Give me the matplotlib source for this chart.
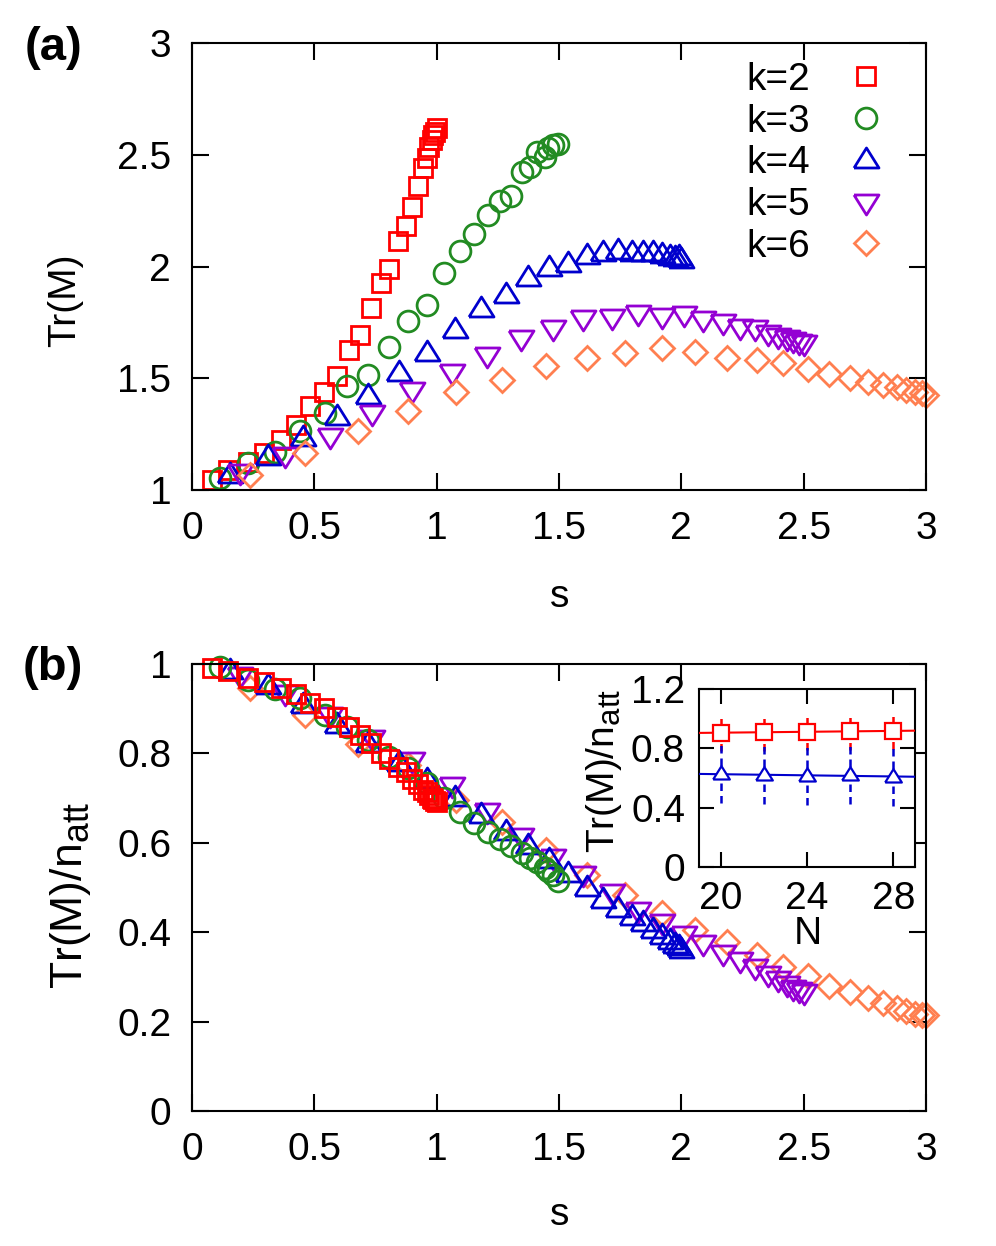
import matplotlib
matplotlib.use("Agg")
import matplotlib.pyplot as plt
import matplotlib._mathtext as mtext
import numpy as np

plt.rcParams['font.family'] = ['Liberation Sans', 'DejaVu Sans']
plt.rcParams['mathtext.default'] = 'regular'
# gnuplot enhanced text shrinks subscripts less than mathtext does
mtext.SHRINK_FACTOR = 0.8

# ---- data ----
s2 = [0.080, 0.148, 0.230, 0.294, 0.362, 0.425, 0.482, 0.539, 0.591, 0.643, 0.687, 0.731, 0.771,
      0.806, 0.842, 0.875, 0.899, 0.925, 0.945, 0.962, 0.970, 0.979, 0.986, 0.993, 1.000]
tr2 = [1.045, 1.089, 1.127, 1.164, 1.224, 1.291, 1.376, 1.440, 1.512, 1.626, 1.694, 1.813, 1.928,
       1.989, 2.114, 2.181, 2.268, 2.360, 2.439, 2.484, 2.536, 2.566, 2.588, 2.603, 2.618]
v2 = [0.992, 0.984, 0.969, 0.960, 0.946, 0.932, 0.912, 0.901, 0.882, 0.860, 0.841, 0.823, 0.802,
      0.787, 0.770, 0.758, 0.743, 0.731, 0.718, 0.713, 0.707, 0.701, 0.698, 0.694, 0.692]

s3 = [0.114, 0.230, 0.339, 0.441, 0.544, 0.632, 0.721, 0.806, 0.884, 0.959, 1.030, 1.095, 1.154,
      1.211, 1.259, 1.304, 1.347, 1.381, 1.411, 1.443, 1.456, 1.477, 1.497]
tr3 = [1.052, 1.122, 1.172, 1.265, 1.343, 1.465, 1.515, 1.638, 1.758, 1.828, 1.969, 2.071, 2.145,
       2.230, 2.293, 2.315, 2.424, 2.447, 2.514, 2.492, 2.529, 2.543, 2.550]
v3 = [0.993, 0.964, 0.944, 0.923, 0.886, 0.860, 0.830, 0.793, 0.767, 0.733, 0.700, 0.668, 0.645,
      0.625, 0.608, 0.592, 0.578, 0.566, 0.556, 0.544, 0.538, 0.528, 0.515]

s4 = [0.155, 0.312, 0.455, 0.591, 0.721, 0.847, 0.962, 1.075, 1.180, 1.282, 1.374, 1.460, 1.538,
      1.613, 1.681, 1.742, 1.797, 1.842, 1.885, 1.919, 1.954, 1.974, 1.992, 2.000]
tr4 = [1.067, 1.149, 1.231, 1.328, 1.421, 1.522, 1.611, 1.716, 1.808, 1.872, 1.947, 1.992, 2.011,
       2.047, 2.062, 2.071, 2.059, 2.062, 2.062, 2.052, 2.044, 2.037, 2.041, 2.029]
v4 = [0.985, 0.950, 0.908, 0.864, 0.820, 0.778, 0.740, 0.700, 0.662, 0.625, 0.592, 0.562, 0.530,
      0.498, 0.472, 0.452, 0.435, 0.420, 0.405, 0.392, 0.380, 0.372, 0.366, 0.360]

s5 = [0.196, 0.380, 0.564, 0.734, 0.898, 1.061, 1.204, 1.343, 1.477, 1.600, 1.715, 1.824, 1.919,
      2.010, 2.090, 2.171, 2.240, 2.301, 2.355, 2.396, 2.430, 2.457, 2.482, 2.500]
tr5 = [1.082, 1.157, 1.242, 1.343, 1.447, 1.529, 1.604, 1.679, 1.723, 1.768, 1.772, 1.793, 1.778,
       1.787, 1.764, 1.753, 1.731, 1.724, 1.701, 1.689, 1.679, 1.672, 1.664, 1.660]
v5 = [0.975, 0.935, 0.885, 0.835, 0.785, 0.730, 0.672, 0.615, 0.568, 0.530, 0.490, 0.450, 0.424,
      0.395, 0.376, 0.354, 0.338, 0.323, 0.307, 0.296, 0.285, 0.276, 0.270, 0.266]

s6 = [0.237, 0.462, 0.680, 0.884, 1.079, 1.268, 1.447, 1.613, 1.769, 1.919, 2.055, 2.185, 2.308,
      2.417, 2.519, 2.604, 2.689, 2.764, 2.825, 2.880, 2.920, 2.955, 2.982, 3.000]
tr6 = [1.067, 1.167, 1.264, 1.353, 1.440, 1.492, 1.555, 1.589, 1.614, 1.634, 1.616, 1.589, 1.582,
       1.570, 1.540, 1.519, 1.500, 1.485, 1.470, 1.459, 1.447, 1.440, 1.432, 1.425]
v6 = [0.946, 0.886, 0.820, 0.774, 0.696, 0.647, 0.584, 0.528, 0.483, 0.442, 0.405, 0.379, 0.349,
      0.323, 0.301, 0.280, 0.267, 0.252, 0.241, 0.230, 0.223, 0.217, 0.215, 0.214]

# inset: Tr(M)/n_att vs N
n_vals = [20, 22, 24, 26, 28]
inset_red = [0.905, 0.908, 0.911, 0.914, 0.917]
inset_red_err = [0.124, 0.124, 0.124, 0.124, 0.124]
inset_blue = [0.625, 0.622, 0.615, 0.618, 0.608]
inset_blue_err = [0.197, 0.197, 0.197, 0.197, 0.197]

labels = ['k=2', 'k=3', 'k=4', 'k=5', 'k=6']
colors = ['#ff0000', '#228b22', '#0000cd', '#9400d3', '#ff7f50']

# gnuplot-like open markers
tri_up = [(-1, -0.6), (1, -0.6), (0, 1.0), (-1, -0.6)]
tri_dn = [(-1, 0.6), (1, 0.6), (0, -1.0), (-1, 0.6)]
markers = ['s', 'o', tri_up, tri_dn, 'D']
msizes = [13, 15, 18, 18, 12]

xticks = [0, 0.5, 1, 1.5, 2, 2.5, 3]
xticklabels = ['0', '0.5', '1', '1.5', '2', '2.5', '3']
yticks_a = [1, 1.5, 2, 2.5, 3]
yticklabels_a = ['1', '1.5', '2', '2.5', '3']
yticks_b = [0, 0.2, 0.4, 0.6, 0.8, 1]
yticklabels_b = ['0', '0.2', '0.4', '0.6', '0.8', '1']

s_all = [s2, s3, s4, s5, s6]
tr_all = [tr2, tr3, tr4, tr5, tr6]
v_all = [v2, v3, v4, v5, v6]

FS = 28
fig = plt.figure(figsize=(9.96, 12.46), dpi=100)
ax_a = fig.add_axes([0.1928, 0.6067, 0.7369, 0.3588])
ax_b = fig.add_axes([0.1928, 0.1083, 0.7369, 0.3588])


def style_axis(ax, pad=15, length=12):
    ax.tick_params(direction='in', length=length, width=1.5, top=True, right=True,
                   labelsize=FS, pad=pad)
    for sp in ax.spines.values():
        sp.set_linewidth(1.5)


# panel (a)
for i in range(5):
    ax_a.plot(s_all[i], tr_all[i], linestyle='none', marker=markers[i], ms=msizes[i],
              mfc='none', mec=colors[i], mew=2.0, label=labels[i], clip_on=False)
ax_a.set_xlim(0, 3)
ax_a.set_ylim(1, 3)
ax_a.set_xticks(xticks)
ax_a.set_xticklabels(xticklabels)
ax_a.set_yticks(yticks_a)
ax_a.set_yticklabels(yticklabels_a)
style_axis(ax_a)
ax_a.set_xlabel('s', fontsize=FS)
ax_a.xaxis.set_label_coords(0.501, -0.239)
ax_a.xaxis.label.set_va('center')
ax_a.set_ylabel('Tr(M)', fontsize=FS)
ax_a.yaxis.set_label_coords(-0.173, 0.425)
ax_a.yaxis.label.set_va('center')
ax_a.legend(loc='upper right', bbox_to_anchor=(0.958, 0.958), frameon=False,
            markerfirst=False, numpoints=1, fontsize=FS, borderpad=0, borderaxespad=0,
            handlelength=1.5, handletextpad=0.69, labelspacing=0.15)

# panel (b), k=6 drawn first so k=2 ends up on top
for i in range(4, -1, -1):
    ax_b.plot(s_all[i], v_all[i], linestyle='none', marker=markers[i], ms=msizes[i],
              mfc='none', mec=colors[i], mew=2.0, clip_on=False)
ax_b.set_xlim(0, 3)
ax_b.set_ylim(0, 1)
ax_b.set_xticks(xticks)
ax_b.set_xticklabels(xticklabels)
ax_b.set_yticks(yticks_b)
ax_b.set_yticklabels(yticklabels_b)
style_axis(ax_b)
ax_b.set_xlabel('s', fontsize=FS)
ax_b.xaxis.set_label_coords(0.501, -0.233)
ax_b.xaxis.label.set_va('center')
ax_b.set_ylabel('Tr(M)/n$_{att}$', fontsize=32)
ax_b.yaxis.set_label_coords(-0.166, 0.483)
ax_b.yaxis.label.set_va('center')

# inset
ax_in = fig.add_axes([0.7018, 0.3042, 0.2169, 0.1429])
nfit = np.array([19, 29])
for yv, ye, col, mk in [(inset_red, inset_red_err, colors[0], 's'),
                        (inset_blue, inset_blue_err, colors[2], tri_up)]:
    eb = ax_in.errorbar(n_vals, yv, yerr=ye, fmt='none', ecolor=col, elinewidth=1.8,
                        capsize=0, zorder=2)
    eb[2][0].set_linestyle((0, (3, 2)))
    p = np.polyfit(n_vals, yv, 1)
    ax_in.plot(nfit, np.polyval(p, nfit), color=col, lw=1.5, zorder=3)
    ax_in.plot(n_vals, yv, linestyle='none', marker=mk, ms=12, mfc='white', mec=col,
               mew=1.6, zorder=4)
ax_in.set_xlim(19, 29)
ax_in.set_ylim(0, 1.2)
ax_in.set_xticks([20, 24, 28])
ax_in.set_yticks([0, 0.4, 0.8, 1.2])
ax_in.set_yticklabels(['0', '0.4', '0.8', '1.2'])
style_axis(ax_in, pad=10, length=11)
ax_in.set_xlabel('N', fontsize=FS)
ax_in.xaxis.set_label_coords(0.505, -0.375)
ax_in.xaxis.label.set_va('center')
ax_in.set_ylabel('Tr(M)/n$_{att}$', fontsize=FS)
ax_in.yaxis.set_label_coords(-0.44, 0.54)
ax_in.yaxis.label.set_va('center')

fig.text(53 / 996, 1 - 48 / 1246, '(a)', fontsize=34, fontweight='bold', ha='center', va='center')
fig.text(53 / 996, 1 - 668 / 1246, '(b)', fontsize=34, fontweight='bold', ha='center', va='center')

fig.savefig('out.png', dpi=100)
